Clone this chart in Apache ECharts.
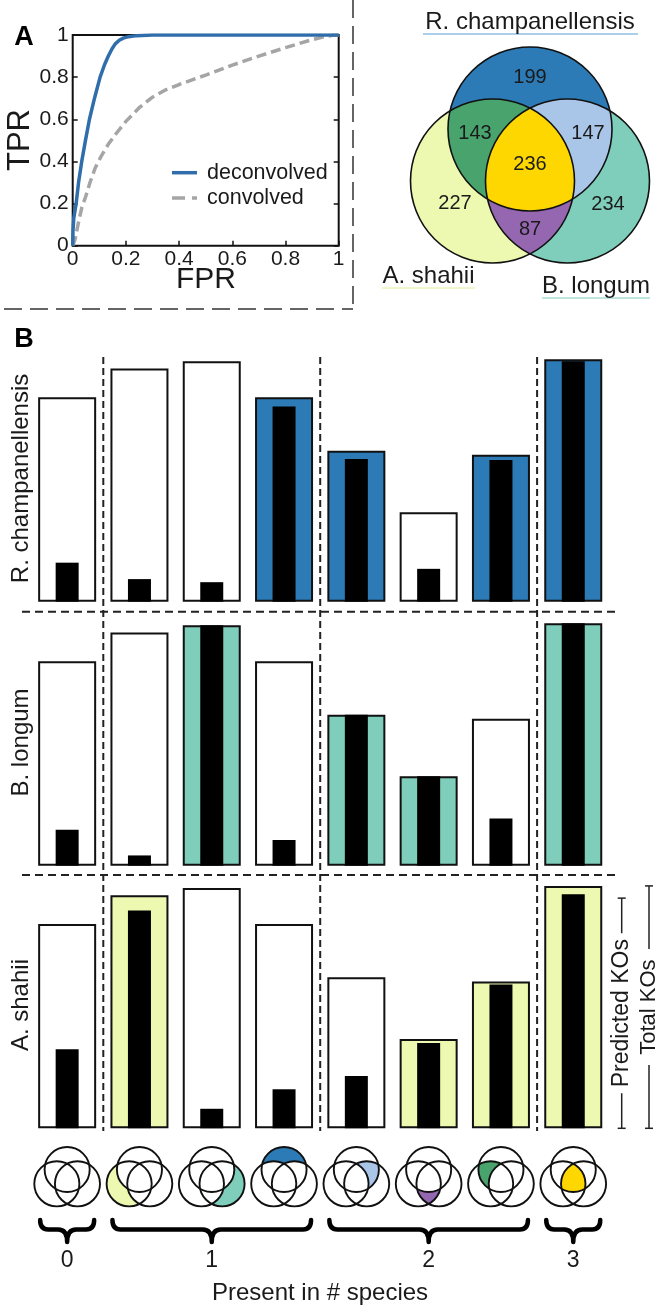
<!DOCTYPE html>
<html><head><meta charset="utf-8">
<script src="https://cdn.jsdelivr.net/npm/echarts@6/dist/echarts.min.js"></script>
<style>html,body{margin:0;padding:0;background:#fff}#c{width:662px;height:1313px}</style>
</head><body><div id="c"></div><script>
// ---------- Panel A: ROC data ----------
const rocDeconvFPR = [0, 0.001, 0.004, 0.013, 0.022, 0.034, 0.048, 0.063, 0.082, 0.103, 0.12, 0.134, 0.148, 0.16, 0.175, 0.19, 0.21, 0.24, 0.3, 0.5, 0.7, 0.9, 1];
const rocDeconvTPR = [0, 0.07, 0.13, 0.2, 0.3, 0.4, 0.5, 0.6, 0.7, 0.8, 0.86, 0.9, 0.935, 0.958, 0.975, 0.985, 0.992, 0.997, 1, 1, 1, 1, 1];
const rocConvFPR = [0, 0.009, 0.02, 0.034, 0.048, 0.065, 0.085, 0.105, 0.133, 0.165, 0.2, 0.25, 0.3, 0.35, 0.4, 0.5, 0.6, 0.7, 0.8, 0.9, 0.95, 0.98, 1];
const rocConvTPR = [0, 0.03, 0.1, 0.18, 0.23, 0.3, 0.37, 0.42, 0.48, 0.535, 0.59, 0.655, 0.705, 0.74, 0.765, 0.81, 0.857, 0.9, 0.94, 0.978, 0.993, 0.999, 1];
const rocTickLabels = ['0', '0.2', '0.4', '0.6', '0.8', '1'];
const rocSeriesNames = ['deconvolved', 'convolved'];

// ---------- Venn ----------
const vennNames = ['R. champanellensis', 'A. shahii', 'B. longum'];
const vennRegionKeys = ['R', 'RA', 'RB', 'RAB', 'A', 'B', 'AB'];
const vennRegionCounts = [199, 143, 147, 236, 227, 234, 87];

// ---------- Panel B ----------
const categories = ['none', 'A', 'B', 'R', 'RB', 'AB', 'AR', 'ARB'];
const categoryRegion = [null, 'A', 'B', 'R', 'RB', 'AB', 'RA', 'RAB'];
const totalKOs = [199, 227, 234, 199, 147, 87, 143, 236];
const predR = [38, 22, 19, 190, 139, 32, 138, 234];
const predB = [35, 10, 234, 25, 147, 87, 46, 236];
const predA = [77, 212, 19, 38, 51, 83, 140, 228];
const rowNames = ['R. champanellensis', 'B. longum', 'A. shahii'];
const rowKeys = ['R', 'B', 'A'];
const groupLabels = ['0', '1', '2', '3'];
const groupRanges = [[0, 0], [1, 3], [4, 6], [7, 7]];

const FONT = '"Liberation Sans", Arial, Helvetica, sans-serif';
const COL = { R: '#2c7bb6', B: '#7fcdbb', A: '#edf8b1', RB: '#a9c6e8', RA: '#48a46c', AB: '#9467b0', RAB: '#ffd700' };
const LINECOL = ['#2f6dab', '#a5a5a5'];
const TXT = '#1a1a1a';

const chart = echarts.init(document.getElementById('c'), null, { renderer: 'canvas' });

const rowTops = [355.2, 619.2, 881.8];
const grids = [{ left: 72.7, top: 35, width: 266, height: 210.7, show: true, borderColor: '#111', borderWidth: 2 }];
const tickStyle = { inside: true, length: 5, lineStyle: { color: '#111', width: 1.5 } };
const xAxes = [{
  gridIndex: 0, type: 'value', min: 0, max: 1, interval: 0.2,
  axisLine: { show: false }, splitLine: { show: false }, axisTick: tickStyle,
  axisLabel: { margin: 3, fontSize: 21, color: TXT, fontFamily: FONT, formatter: (v) => rocTickLabels[Math.round(v * 5)] }
}];
const yAxes = [{
  gridIndex: 0, type: 'value', min: 0, max: 1, interval: 0.2,
  axisLine: { show: false }, splitLine: { show: false }, axisTick: tickStyle,
  axisLabel: { margin: 4, fontSize: 21, color: TXT, fontFamily: FONT, formatter: (v) => rocTickLabels[Math.round(v * 5)] }
}];
const series = [
  { name: rocSeriesNames[0], type: 'line', xAxisIndex: 0, yAxisIndex: 0, symbol: 'none', z: 4,
    data: rocDeconvFPR.map((x, i) => [x, rocDeconvTPR[i]]),
    lineStyle: { color: LINECOL[0], width: 3.5, join: 'round' } },
  { name: rocSeriesNames[1], type: 'line', xAxisIndex: 0, yAxisIndex: 0, symbol: 'none', z: 3,
    data: rocConvFPR.map((x, i) => [x, rocConvTPR[i]]),
    lineStyle: { color: LINECOL[1], width: 3.5, type: [10, 5] } }
];
const preds = [predR, predB, predA];
rowTops.forEach((top, r) => {
  const g = r + 1;
  grids.push({ left: 31, top: top, width: 578.4, height: 246.5 });
  xAxes.push({ gridIndex: g, type: 'category', data: categories, show: false });
  xAxes.push({ gridIndex: g, type: 'category', data: categories, show: false });
  yAxes.push({ gridIndex: g, type: 'value', min: 0, max: 240, show: false });
  const key = rowKeys[r];
  series.push({
    type: 'bar', xAxisIndex: 2 * r + 1, yAxisIndex: g, barWidth: 58, z: 2, silent: true,
    itemStyle: { borderColor: '#111', borderWidth: 2 },
    data: totalKOs.map((v, i) => ({ value: v, itemStyle: { color: categories[i].indexOf(key) >= 0 ? COL[key] : '#ffffff' } }))
  });
  series.push({
    type: 'bar', xAxisIndex: 2 * r + 2, yAxisIndex: g, barWidth: 23, z: 3, silent: true,
    itemStyle: { color: '#000' }, data: preds[r]
  });
});
// right-hand tick marks of the ROC frame
yAxes.push({ gridIndex: 0, type: 'value', position: 'right', min: 0, max: 1, interval: 0.2,
  axisLine: { show: false }, splitLine: { show: false }, axisTick: tickStyle, axisLabel: { show: false } });

chart.setOption({
  animation: false,
  backgroundColor: '#fff',
  grid: grids, xAxis: xAxes, yAxis: yAxes, series: series
});

// ---------- decorations computed from the axes ----------
const els = [];     // graphic component elements (text / lines)
const shapes = [];  // custom-series shapes (paths / circles)
function txt(t, x, y, size, opts) {
  opts = opts || {};
  els.push({ type: 'text', x: x, y: y, rotation: opts.rot || 0, z: 20,
    style: { text: t, fontSize: size, fontFamily: FONT, fontWeight: opts.bold ? 'bold' : 'normal', fill: opts.fill || TXT,
      align: opts.align || 'center', verticalAlign: 'middle' } });
}
function line(x1, y1, x2, y2, w, dash, col) {
  els.push({ type: 'line', z: 15, shape: { x1: x1, y1: y1, x2: x2, y2: y2 },
    style: { stroke: col || '#222', lineWidth: w, lineDash: dash || null } });
}
function circlePts(c1, c2, r) {
  const dx = c2[0] - c1[0], dy = c2[1] - c1[1], D = Math.hypot(dx, dy);
  const a = Math.sqrt(r * r - D * D / 4), mx = (c1[0] + c2[0]) / 2, my = (c1[1] + c2[1]) / 2;
  const px = -dy / D, py = dx / D;
  return [[mx + a * px, my + a * py], [mx - a * px, my - a * py]];
}
function venn(ox, oy, s) {
  const d = 37.5 * s, h = 52 * s, r = 82 * s;
  const R = [ox, oy - h], A = [ox - d, oy], B = [ox + d, oy];
  const dist = (p, q) => Math.hypot(p[0] - q[0], p[1] - q[1]);
  const ab = circlePts(A, B, r).sort((p, q) => p[1] - q[1]);
  const ra = circlePts(R, A, r).sort((p, q) => dist(p, B) - dist(q, B));
  const rb = circlePts(R, B, r).sort((p, q) => dist(p, A) - dist(q, A));
  const Pabt = ab[0], Pabb = ab[1], Prai = ra[0], Prao = ra[1], Prbi = rb[0], Prbo = rb[1];
  const f = (n) => n.toFixed(2);
  function build(start, segs) {
    let str = 'M' + f(start[0]) + ' ' + f(start[1]); let cur = start;
    segs.forEach(([c, q, cw]) => {
      const a0 = Math.atan2(cur[1] - c[1], cur[0] - c[0]), a1 = Math.atan2(q[1] - c[1], q[0] - c[0]);
      let sw = cw ? a1 - a0 : a0 - a1;
      while (sw < 0) sw += 2 * Math.PI;
      while (sw >= 2 * Math.PI) sw -= 2 * Math.PI;
      str += ' A' + f(r) + ' ' + f(r) + ' 0 ' + (sw > Math.PI ? 1 : 0) + ' ' + (cw ? 1 : 0) + ' ' + f(q[0]) + ' ' + f(q[1]);
      cur = q;
    });
    return str + ' Z';
  }
  return {
    centers: { R: R, A: A, B: B }, r: r,
    paths: {
      R: build(Prao, [[R, Prbo, true], [B, Pabt, false], [A, Prao, false]]),
      A: build(Prao, [[A, Pabb, false], [B, Prbi, true], [R, Prao, true]]),
      B: build(Prbo, [[B, Pabb, true], [A, Prai, false], [R, Prbo, false]]),
      RB: build(Prbo, [[R, Prai, true], [A, Pabt, false], [B, Prbo, true]]),
      RA: build(Prao, [[A, Pabt, true], [B, Prbi, false], [R, Prao, true]]),
      AB: build(Prbi, [[R, Prai, false], [A, Pabb, true], [B, Prbi, true]]),
      RAB: build(Pabt, [[A, Prai, true], [R, Prbi, true], [B, Pabt, true]])
    }
  };
}
function drawVenn(v, fills, lw) {
  Object.keys(fills).forEach(k => {
    shapes.push({ type: 'path', z2: 1, shape: { pathData: v.paths[k] }, style: { fill: fills[k], stroke: null } });
  });
  ['R', 'A', 'B'].forEach(k => {
    const c = v.centers[k];
    shapes.push({ type: 'circle', z2: 2, shape: { cx: c[0], cy: c[1], r: v.r }, style: { fill: null, stroke: '#111', lineWidth: lw } });
  });
}

// Panel labels and A frame
txt('A', 24, 38, 27, { bold: true, fill: '#000' });
txt('B', 24, 340, 27, { bold: true, fill: '#000' });
txt('TPR', 20, 140, 31, { rot: Math.PI / 2 });
txt('FPR', 206, 280, 30);
line(353, 0, 353, 309, 1.5, [18, 8], '#333');
line(4, 309, 353, 309, 1.5, [18, 8], '#333');

// ROC legend
line(172, 172.7, 197, 172.7, 3.5, null, LINECOL[0]);
line(172, 198, 197, 198, 3.5, [13, 7], LINECOL[1]);
txt(rocSeriesNames[0], 207, 172.7, 21.5, { align: 'left' });
txt(rocSeriesNames[1], 207, 198, 21.5, { align: 'left' });

// Big Venn
const big = venn(530, 181, 1);
const bigFills = {}; vennRegionKeys.forEach(k => bigFills[k] = COL[k]);
drawVenn(big, bigFills, 1.6);
const vennNumPos = { R: [530, 77], RA: [475, 133], RB: [588, 133], RAB: [530, 164], A: [455, 203], B: [608, 204], AB: [530, 229] };
vennRegionKeys.forEach((k, i) => txt(String(vennRegionCounts[i]), vennNumPos[k][0], vennNumPos[k][1], 20));
txt(vennNames[0], 530, 22, 24); line(423, 34, 638, 34, 1, null, '#5a9fd4');
txt(vennNames[1], 428.5, 276, 24); line(382, 288, 475, 288, 1, null, '#e3ec9a');
txt(vennNames[2], 596, 286, 24); line(542, 298, 650, 298, 1, null, '#7fcdbb');

// Panel B decorations
const xs = categories.map((c, i) => chart.convertToPixel({ xAxisIndex: 1 }, i));
rowNames.forEach((n, r) => {
  const yTop = chart.convertToPixel({ yAxisIndex: r + 1 }, 240), yBot = chart.convertToPixel({ yAxisIndex: r + 1 }, 0);
  txt(n, 21, (yTop + yBot) / 2, 24, { rot: Math.PI / 2 });
});
[0, 3, 6].forEach(i => {
  const bx = (xs[i] + xs[i + 1]) / 2;
  line(bx, 357, bx, 1131, 2, [7, 4], '#222');
});
line(22, 611.7, 618, 611.7, 2, [8, 5], '#222');
line(22, 875, 618, 875, 2, [8, 5], '#222');

// dimension annotations (Predicted / Total KOs) next to last bar of bottom row
const yb = chart.convertToPixel({ yAxisIndex: 3 }, 0);
const yp = chart.convertToPixel({ yAxisIndex: 3 }, predA[7]);
const yt = chart.convertToPixel({ yAxisIndex: 3 }, totalKOs[7]);
function dim(x, y1, y2, label, half, size) {
  const ym = (y1 + y2) / 2;
  line(x, y1, x, ym - half, 1.5, null, '#222');
  line(x, ym + half, x, y2, 1.5, null, '#222');
  line(x - 4, y1, x + 4, y1, 1.5, null, '#222');
  line(x - 4, y2, x + 4, y2, 1.5, null, '#222');
  txt(label, x, ym, size, { rot: Math.PI / 2 });
}
dim(621.7, yp + 4, yb, 'Predicted KOs', 80, 23);
dim(649, yt, yb, 'Total KOs', 58, 22);

// mini Venn icons
categoryRegion.forEach((k, i) => {
  const v = venn(xs[i], 1169.5 + 52 * 0.275, 0.275);
  const fills = {}; if (k) fills[k] = COL[k];
  drawVenn(v, fills, 1.9);
});

// braces and group labels
groupRanges.forEach((g, j) => {
  const x1 = xs[g[0]] - 27, x2 = xs[g[1]] + 27, xm = (x1 + x2) / 2;
  const y0 = 1220, y1 = 1229.5, y2 = 1242;
  const p = `M${x1} ${y0} Q${x1} ${y1} ${x1 + 8} ${y1} L${xm - 9} ${y1} Q${xm} ${y1} ${xm} ${y2} Q${xm} ${y1} ${xm + 9} ${y1} L${x2 - 8} ${y1} Q${x2} ${y1} ${x2} ${y0}`;
  shapes.push({ type: 'path', z2: 3, shape: { pathData: p }, style: { fill: null, stroke: '#000', lineWidth: 4.5, lineJoin: 'round', lineCap: 'round' } });
  txt(groupLabels[j], xm, 1261, 23);
});
txt('Present in # species', 320, 1293, 24);

series.push({
  type: 'custom', coordinateSystem: 'none', silent: true, z: 10, data: [0],
  renderItem: () => ({ type: 'group', children: shapes })
});
chart.setOption({ series: series, graphic: { elements: els } });
</script></body></html>
